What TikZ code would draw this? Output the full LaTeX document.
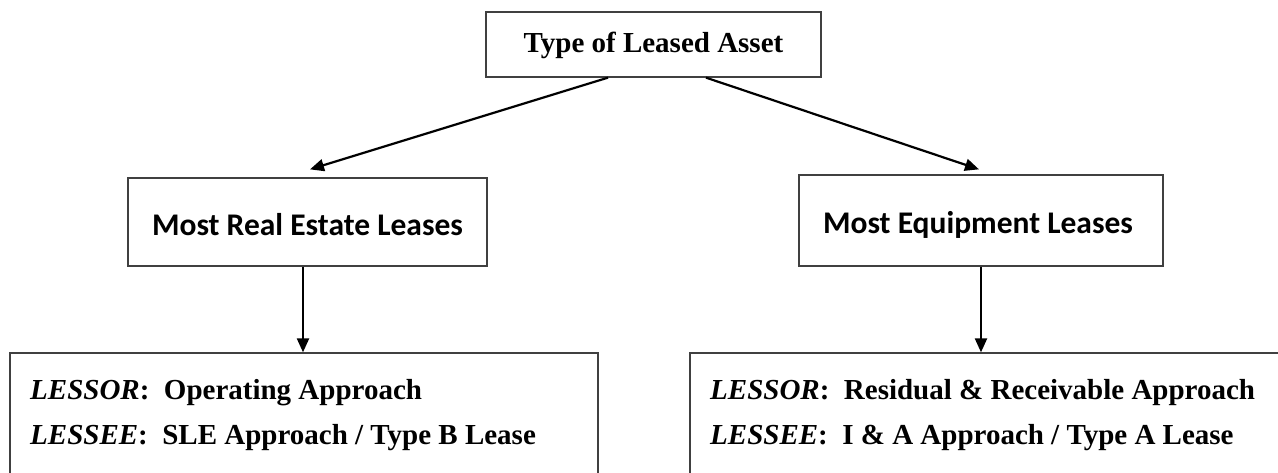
\documentclass[tikz,border=0pt]{standalone}
\usepackage{fontspec}
\setmainfont{Liberation Serif}
\newfontfamily\carl{Carlito}
\usetikzlibrary{arrows.meta}
\begin{document}
\begin{tikzpicture}[x=1pt,y=1pt,
  box/.style={draw=black!75, line width=1.3pt, fill=white, inner sep=0pt},
  conn/.style={line width=2.2pt, -{Triangle[length=14pt,width=12pt]}},
  ttext/.style={font=\fontsize{29}{35}\selectfont\bfseries},
  mtext/.style={font=\carl\fontsize{31.5}{36}\selectfont\bfseries},
  btext/.style={font=\fontsize{29}{35}\selectfont\bfseries, anchor=base west, inner sep=0pt}]
\useasboundingbox (0,0) rectangle (1278,-472);
\clip (0,0) rectangle (1278,-472);
% boxes
\node[box, minimum width=335pt, minimum height=65pt] (top) at (653.5,-44.5) {};
\node[ttext, anchor=base] (toptxt) at (653.5,-52) {Type of Leased Asset};
\node[box, minimum width=359pt, minimum height=88pt] (midL) at (307.5,-222) {};
\node[mtext, anchor=base] (midLtxt) at (307.5,-235) {Most Real Estate Leases};
\node[box, minimum width=364pt, minimum height=91pt] (midR) at (981,-220.5) {};
\node[mtext, anchor=base] (midRtxt) at (978,-233) {Most Equipment Leases};
\node[box, minimum width=588pt, minimum height=200pt] (botL) at (304,-453) {};
\node[box, minimum width=700pt, minimum height=200pt] (botR) at (1040,-453) {};
\node[btext] (l1) at (30,-399) {\textit{LESSOR}:\ \ Operating Approach};
\node[btext] (l2) at (30,-444) {\textit{LESSEE}:\ \ SLE Approach / Type B Lease};
\node[btext] (r1) at (710,-399) {\textit{LESSOR}:\ \ Residual \& Receivable Approach};
\node[btext] (r2) at (710,-444) {\textit{LESSEE}:\ \ I \& A Approach / Type A Lease};
% connector end points
\coordinate (aL) at ([xshift=2.5pt,yshift=8pt]midL.north);
\coordinate (aR) at ([xshift=-2pt,yshift=5pt]midR.north);
% connectors
\draw[conn] ([xshift=-45.5pt]top.south) -- (aL);
\draw[conn] ([xshift=52.5pt]top.south) -- (aR);
\draw[conn] ([xshift=-4.5pt]midL.south) -- ([xshift=-4.5pt]midL.south |- botL.north);
\draw[conn] (midR.south) -- (midR.south |- botR.north);
\end{tikzpicture}
\end{document}
